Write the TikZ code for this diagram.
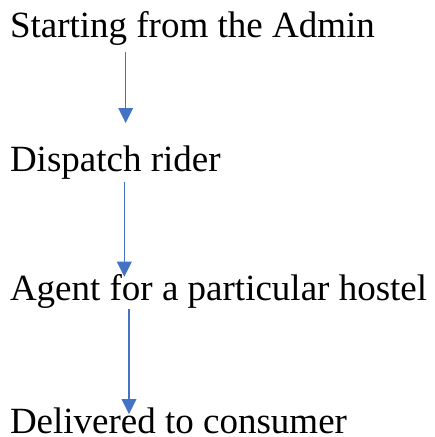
\documentclass[tikz,border=0pt]{standalone}
\usepackage{fontspec}
\setmainfont{Liberation Serif}
\definecolor{arrowblue}{HTML}{4472C4}
\tikzset{
  label text/.style={anchor=base west, inner sep=0pt, outer sep=0pt, font=\fontsize{37}{40}\selectfont},
  flowline/.style={draw=arrowblue, line width=1.3pt},
  flowhead/.style={fill=arrowblue}
}
\begin{document}
\begin{tikzpicture}
\useasboundingbox (0,0) rectangle (435pt,-437pt);
\node[label text] (t1) at (10pt,-37.3pt) {Starting from the Admin};
\node[label text] (t2) at (10pt,-171pt) {Dispatch rider};
\node[label text] (t3) at (10pt,-300.7pt) {Agent for a particular hostel};
\node[label text] (t4) at (10pt,-433.3pt) {Delivered to consumer};
\coordinate (a1s) at (125.7pt,-52pt);
\coordinate (a1e) at (125.7pt,-123pt);
\coordinate (a2s) at (124.3pt,-181.7pt);
\coordinate (a2e) at (124.3pt,-276.7pt);
\coordinate (a3s) at (129pt,-309pt);
\coordinate (a3e) at (129pt,-414pt);
\foreach \s/\e in {a1s/a1e,a2s/a2e,a3s/a3e}{
  \draw[flowline] (\s) -- ([yshift=14pt]\e);
  \fill[flowhead] (\e) -- ++(-7.5pt,15pt) -- ++(15pt,0) -- cycle;
}
\end{tikzpicture}
\end{document}
